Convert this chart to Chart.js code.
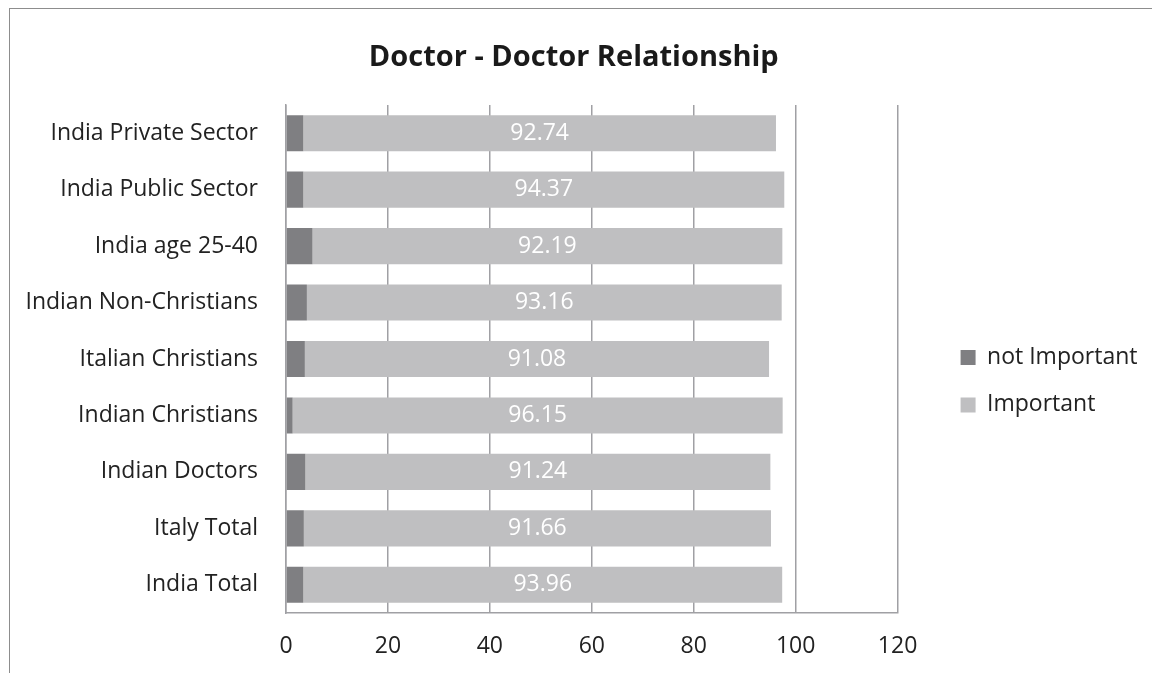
<!DOCTYPE html>
<html>
<head>
<meta charset="utf-8">
<script src="https://cdn.jsdelivr.net/npm/chart.js@4.4.1/dist/chart.umd.min.js"></script>
<style>
  html, body { margin: 0; padding: 0; background: #fff; overflow: hidden; }
  #frame {
    position: absolute; left: 9px; top: 8px; width: 1300px; height: 800px;
    border: 1.5px solid #8d8d8d;
  }
  #wrap { position: absolute; left: 0; top: 0; width: 1152px; height: 673px; }
</style>
</head>
<body>
<div id="frame"></div>
<div id="wrap"><canvas id="relChart"></canvas></div>
<script>
const categories = [
  'India Private Sector', 'India Public Sector', 'India age 25-40',
  'Indian Non-Christians', 'Italian Christians', 'Indian Christians',
  'Indian Doctors', 'Italy Total', 'India Total'
]
const notImportant = [3.4, 3.4, 5.2, 4.1, 3.7, 1.3, 3.8, 3.5, 3.4]
const important = [92.74, 94.37, 92.19, 93.16, 91.08, 96.15, 91.24, 91.66, 93.96]
const xTickValues = [0, 20, 40, 60, 80, 100, 120]

const gridGrey = '#a0a0a4'
const textDark = '#222222'

Chart.defaults.font.family = "'Open Sans', sans-serif"
Chart.defaults.color = textDark

// white value text in the middle of each "Important" segment
const segmentLabels = {
  id: 'segmentLabels',
  afterDatasetsDraw(chart) {
    const {ctx} = chart
    const meta = chart.getDatasetMeta(1)
    ctx.save()
    ctx.font = "23px 'Open Sans', sans-serif"
    ctx.fillStyle = '#ffffff'
    ctx.textAlign = 'center'
    ctx.textBaseline = 'middle'
    meta.data.forEach((bar, i) => {
      const {x, y} = bar.getCenterPoint()
      ctx.fillText(important[i].toFixed(2), x, y)
    })
    ctx.restore()
  }
}

new Chart(document.getElementById('relChart'), {
  type: 'bar',
  data: {
    labels: categories,
    datasets: [{
      label: 'not Important',
      data: notImportant,
      backgroundColor: '#7f7f82',
      borderWidth: 0
    }, {
      label: 'Important',
      data: important,
      backgroundColor: '#bfbfc1',
      borderWidth: 0
    }]
  },
  options: {
    indexAxis: 'y',
    responsive: true,
    maintainAspectRatio: false,
    animation: false,
    datasets: {
      bar: { categoryPercentage: 0.8, barPercentage: 0.8 }
    },
    layout: {
      padding: { left: 0, top: 10, right: 4.5, bottom: 10 }
    },
    scales: {
      x: {
        stacked: true,
        min: xTickValues[0],
        max: xTickValues[xTickValues.length - 1],
        afterBuildTicks: scale => {
          scale.ticks = xTickValues.map(v => ({value: v}))
        },
        grid: { color: gridGrey, lineWidth: 1.5, drawTicks: false },
        border: { color: gridGrey, width: 1.5 },
        ticks: { padding: 20, font: { size: 23 }, color: textDark },
        afterFit: scale => { scale.height = 50 }
      },
      y: {
        stacked: true,
        grid: { display: false, drawTicks: false },
        border: { color: gridGrey, width: 1.5 },
        ticks: { padding: 28, font: { size: 23 }, color: textDark },
        afterFit: scale => { scale.width = 286 }
      },
      // empty spacer between the plot and the legend
      gap: {
        type: 'category',
        axis: 'y',
        position: 'right',
        grid: { display: false },
        border: { display: false },
        ticks: { display: false },
        afterFit: scale => { scale.width = 38.5 }
      }
    },
    plugins: {
      title: {
        display: true,
        text: 'Doctor - Doctor Relationship',
        font: { size: 29, weight: 'bold' },
        color: '#1a1a1a',
        padding: { top: 30, bottom: 30.2 }
      },
      legend: {
        position: 'right',
        maxWidth: 240,
        // blank title only to push the two entries down a little
        title: { display: true, text: '', font: { size: 12 }, padding: 37.5 },
        labels: {
          boxWidth: 15,
          boxHeight: 15,
          padding: 24.5,
          font: { size: 23 },
          color: textDark
        }
      },
      tooltip: { enabled: false }
    }
  },
  plugins: [segmentLabels]
})
</script>
</body>
</html>
